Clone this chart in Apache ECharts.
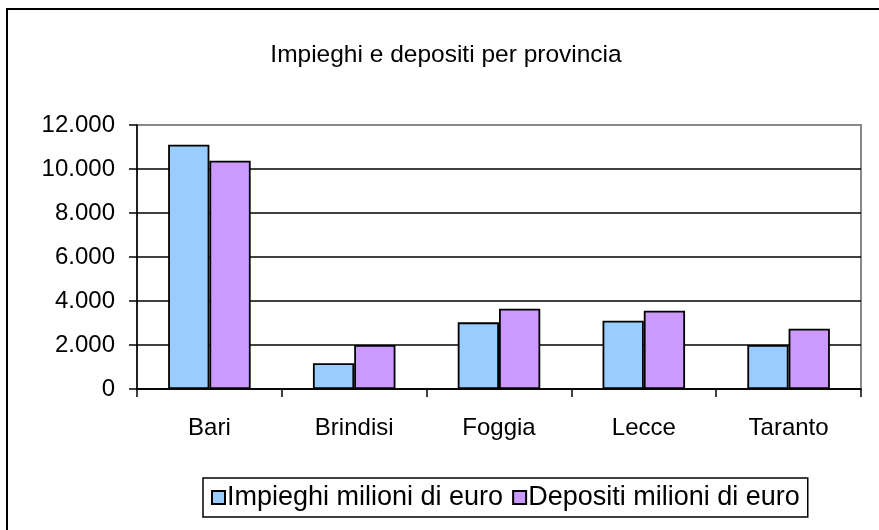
<!DOCTYPE html>
<html>
<head>
<meta charset="utf-8">
<script src="https://cdn.jsdelivr.net/npm/echarts@6/dist/echarts.min.js"></script>
<style>html,body{margin:0;padding:0;background:#fff;}#c{width:879px;height:530px;}</style>
</head>
<body>
<div id="c"></div>
<script>
const categories = ['Bari', 'Brindisi', 'Foggia', 'Lecce', 'Taranto'];
const impieghi = [11100, 1170, 3030, 3100, 2000];
const depositi = [10380, 2000, 3650, 3560, 2740];
const seriesNames = ['Impieghi milioni di euro', 'Depositi milioni di euro'];
const titleText = 'Impieghi e depositi per provincia';
const yTicks = [0, 2000, 4000, 6000, 8000, 10000, 12000];

const FONT = '"Liberation Sans", Arial, sans-serif';
const FS = 24;
function fmt(v) { return String(v).replace(/\B(?=(\d{3})+(?!\d))/g, '.'); }

const chart = echarts.init(document.getElementById('c'), null, {renderer: 'canvas'});
chart.setOption({
  backgroundColor: '#fff',
  animation: false,
  title: {
    text: titleText, left: 446, top: 43, textAlign: 'center', padding: 0,
    textStyle: {fontFamily: FONT, fontSize: 24.5, fontWeight: 'normal', color: '#000'}
  },
  legend: {
    left: 203, top: 478,
    padding: [6, 8], itemGap: 9, itemWidth: 13, itemHeight: 13,
    borderColor: '#000', borderWidth: 1.5,
    icon: 'rect',
    textStyle: {fontFamily: FONT, fontSize: 27, color: '#000', padding: [0, 0, 0, -3]},
    data: seriesNames
  },
  grid: {left: 137, right: 18, top: 125, bottom: 141, show: true, borderColor: '#888', borderWidth: 2, backgroundColor: 'transparent'},
  xAxis: {
    type: 'category', data: categories,
    axisLine: {lineStyle: {color: '#000', width: 1.5}},
    axisTick: {show: true, alignWithLabel: false, length: 8, lineStyle: {color: '#000', width: 1.5}},
    axisLabel: {fontFamily: FONT, fontSize: FS, color: '#000', margin: 27}
  },
  yAxis: {
    type: 'value', min: yTicks[0], max: yTicks[yTicks.length - 1], interval: 2000,
    axisLine: {show: true, lineStyle: {color: '#000', width: 1.5}},
    axisTick: {show: true, length: 8, lineStyle: {color: '#000', width: 1.5}},
    axisLabel: {fontFamily: FONT, fontSize: FS, color: '#000', margin: 22, formatter: fmt},
    splitLine: {show: true, lineStyle: {color: ['#000', '#000', '#000', '#000', '#000', '#000', '#888'], width: 1.5}}
  },
  series: [
    {name: seriesNames[0], type: 'bar', data: impieghi, barGap: '0%', barCategoryGap: '43%',
     itemStyle: {color: '#99CCFF', borderColor: '#000', borderWidth: 1.8}},
    {name: seriesNames[1], type: 'bar', data: depositi, barGap: '0%', barCategoryGap: '43%',
     itemStyle: {color: '#CC99FF', borderColor: '#000', borderWidth: 1.8}}
  ],
  graphic: [{
    type: 'rect', z: 100, silent: true,
    shape: {x: 7, y: 9, width: 900, height: 600},
    style: {fill: null, stroke: '#000', lineWidth: 2}
  }]
});
</script>
</body>
</html>
